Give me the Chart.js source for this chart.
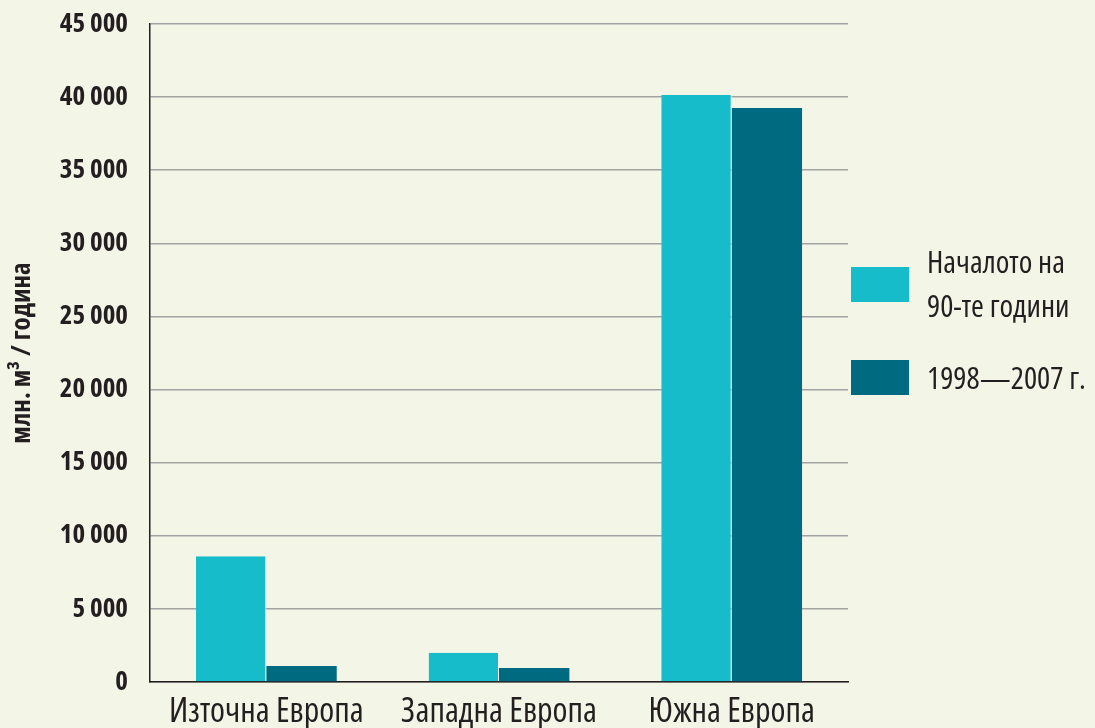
<!DOCTYPE html>
<html>
<head>
<meta charset="utf-8">
<script src="https://cdn.jsdelivr.net/npm/chart.js@4"></script>
<style>
  html, body { margin: 0; padding: 0; background: #f3f5e6; }
  #wrap { position: relative; width: 1095px; height: 728px; }
  .legend { position: absolute; left: 851px; font-family: "Open Sans", sans-serif; font-stretch: condensed; font-size: 31px; color: #231f20; }
  .legend .box { position: absolute; left: 0; width: 58px; height: 35px; }
  .legend .txt { position: absolute; left: 76px; white-space: nowrap; line-height: 44px; }
</style>
</head>
<body>
<div id="wrap">
  <canvas id="chart" width="1095" height="728"></canvas>
  <div class="legend" style="top:267px">
    <div class="box" style="background:#17bccb"></div>
    <div class="txt" style="top:-28px">Началото на<br>90-те години</div>
  </div>
  <div class="legend" style="top:360px">
    <div class="box" style="background:#006a80"></div>
    <div class="txt" style="top:-5px">1998—2007 г.</div>
  </div>
</div>
<script>
const regions = ["Източна Европа", "Западна Европа", "Южна Европа"]
const early90s = [8600, 2000, 40150]
const period98to07 = [1100, 950, 39250]
const seriesNames = ["Началото на 90-те години", "1998—2007 г."]

// condensed face of the variable Open Sans, via the font shorthand
const font = "'Open Sans', sans-serif"

new Chart(document.getElementById("chart"), {
  type: "bar",
  data: {
    labels: regions,
    datasets: [
      {
        label: seriesNames[0],
        data: early90s,
        backgroundColor: "#17bccb",
        borderColor: "#ffffff",
        borderWidth: { left: 0, right: 1, top: 0, bottom: 0 },
        borderSkipped: false
      },
      {
        label: seriesNames[1],
        data: period98to07,
        backgroundColor: "#006a80",
        borderWidth: 0
      }
    ]
  },
  options: {
    responsive: false,
    animation: false,
    layout: { padding: { top: 24, right: 247, left: 0, bottom: 0 } },
    plugins: { legend: { display: false }, tooltip: { enabled: false } },
    datasets: { bar: { barPercentage: 1, categoryPercentage: 0.605 } },
    scales: {
      x: {
        grid: { display: false, drawTicks: false },
        border: { color: "#231f20", width: 1.5 },
        ticks: { color: "#231f20", font: { family: font, size: 34, weight: "normal condensed" }, padding: 10 },
        afterFit: s => { s.height = 46 }
      },
      y: {
        min: 0,
        max: 45000,
        grid: { color: "#a3a3a3", lineWidth: 1.5, drawTicks: false },
        border: { color: "#231f20", width: 1.5 },
        ticks: {
          stepSize: 5000,
          padding: 22,
          color: "#231f20",
          font: { family: font, size: 27, weight: "bold condensed" },
          callback: v => v >= 1000 ? Math.floor(v / 1000) + " " + String(v % 1000).padStart(3, "0") : String(v)
        },
        title: {
          display: true,
          text: "млн. м³ / година",
          color: "#231f20",
          font: { family: font, size: 27, weight: "bold condensed" },
          padding: { top: 6, bottom: 0 }
        },
        afterFit: s => {
          s.width = 150
          s.paddingTop = 0
          s.paddingBottom = 0
        }
      }
    }
  }
})
</script>
</body>
</html>
